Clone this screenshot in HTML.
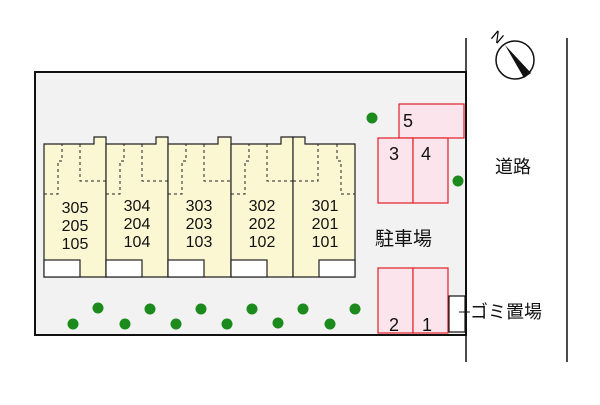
<!DOCTYPE html>
<html><head><meta charset="utf-8"><style>
body{margin:0;background:#fff;}
svg text{font-family:"Liberation Sans","Noto Sans CJK JP",sans-serif;}
</style></head><body>
<svg width="600" height="400" viewBox="0 0 600 400" xmlns="http://www.w3.org/2000/svg">
<rect x="35" y="72" width="431" height="263" fill="#f2f2f2" stroke="#111" stroke-width="2"/>
<line x1="466" y1="38" x2="466" y2="362" stroke="#111" stroke-width="1.5"/>
<line x1="567" y1="38" x2="567" y2="362" stroke="#111" stroke-width="1.5"/>
<circle cx="515" cy="60" r="19" fill="#fff" stroke="#111" stroke-width="1.5"/>
<polygon points="505,45 531,73 524,78" fill="#111"/>
<text x="492" y="44" font-size="15" transform="rotate(40 500 38)">N</text>
<g stroke="#222" stroke-width="1.2" fill="#fbf7d3">
<path d="M44,144 H94 V137 H106 V277 H44 Z"/>
<path d="M106,144 H156 V137 H168 V277 H106 Z"/>
<path d="M168,144 H218 V137 H231 V277 H168 Z"/>
<path d="M231,144 H281 V137 H293 V277 H231 Z"/>
<path d="M293,137 H305 V144 H355 V277 H293 Z"/>
</g>
<g stroke="#222" stroke-width="1" stroke-dasharray="3,3" fill="none">
<path d="M44,194 H58 V161 H62 V144 M80,144 V181 H106 M106,194 H120 V161 H124 V144 M142,144 V181 H168 M168,194 H182 V161 H186 V144 M204,144 V181 H231 M231,194 H245 V161 H249 V144 M267,144 V181 H293 M293,181 H318 V144 M337,144 V161 H341 V194 H355"/>
</g>
<g fill="#fff" stroke="#222" stroke-width="1.2">
<rect x="44" y="260" width="36" height="17"/><rect x="106" y="260" width="36" height="17"/>
<rect x="168" y="260" width="36" height="17"/><rect x="231" y="260" width="36" height="17"/>
<rect x="319" y="260" width="36" height="17"/>
</g>
<g font-size="16" fill="#111" text-anchor="middle">
<text x="75" y="213">305</text><text x="75" y="231">205</text><text x="75" y="249">105</text>
<text x="137" y="211">304</text><text x="137" y="229">204</text><text x="137" y="247">104</text>
<text x="199" y="211">303</text><text x="199" y="229">203</text><text x="199" y="247">103</text>
<text x="262" y="211">302</text><text x="262" y="229">202</text><text x="262" y="247">102</text>
<text x="325" y="211">301</text><text x="325" y="229">201</text><text x="325" y="247">101</text>
</g>
<g fill="#fce4ec" stroke="#e0202a" stroke-width="1.2">
<rect x="399" y="104" width="65" height="34"/>
<rect x="378" y="138" width="35" height="65"/><rect x="413" y="138" width="35" height="65"/>
<rect x="378" y="268" width="35" height="65"/><rect x="413" y="268" width="35" height="65"/>
</g>
<rect x="449" y="296" width="16" height="36" fill="#fff" stroke="#111" stroke-width="1.2"/>
<line x1="459" y1="312" x2="470" y2="312" stroke="#111"/>
<g font-size="18" fill="#111">
<text x="403" y="127">5</text><text x="389" y="160">3</text><text x="421" y="160">4</text>
<text x="389" y="331">2</text><text x="422" y="331">1</text>
</g>
<text x="375" y="245" font-size="19" fill="#111">駐車場</text>
<text x="495" y="173" font-size="18" fill="#111">道路</text>
<text x="470" y="318" font-size="18" fill="#111">ゴミ置場</text>
<g fill="#1c8a1c">
<circle cx="372" cy="118" r="5.5"/><circle cx="458" cy="181" r="5.5"/>
<circle cx="73" cy="324" r="5.5"/><circle cx="98" cy="308" r="5.5"/><circle cx="125" cy="324" r="5.5"/>
<circle cx="150" cy="309" r="5.5"/><circle cx="176" cy="324" r="5.5"/><circle cx="201" cy="309" r="5.5"/>
<circle cx="227" cy="324" r="5.5"/><circle cx="252" cy="309" r="5.5"/><circle cx="278" cy="323" r="5.5"/>
<circle cx="303" cy="309" r="5.5"/><circle cx="330" cy="324" r="5.5"/><circle cx="355" cy="309" r="5.5"/>
</g>
</svg>
</body></html>
